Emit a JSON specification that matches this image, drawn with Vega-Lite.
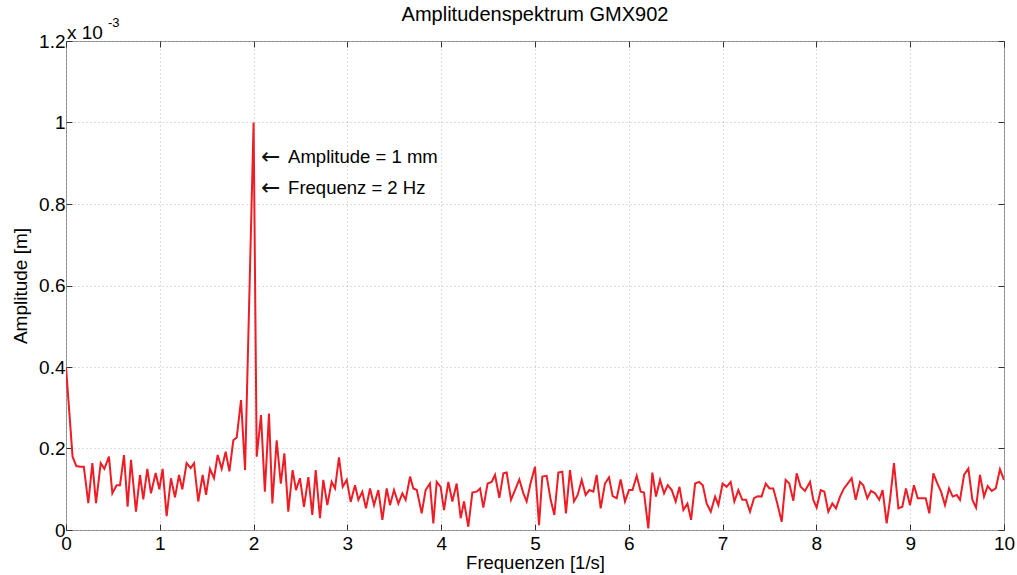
{
  "$schema": "https://vega.github.io/schema/vega-lite/v6.json",
  "width": 938,
  "height": 489,
  "autosize": {"type": "none"},
  "padding": {"left": 66, "top": 41, "right": 13, "bottom": 45},
  "background": "white",
  "config": {
    "font": "Liberation Sans",
    "view": {"stroke": "#8a8a8a", "strokeWidth": 1},
    "axis": {
      "domain": false,
      "tickSize": -6,
      "tickColor": "#333333",
      "labelFont": "Liberation Sans",
      "labelFontSize": 19,
      "labelColor": "black",
      "labelFlush": false,
      "titleFont": "Liberation Sans",
      "titleFontSize": 19,
      "titleFontWeight": "normal",
      "titleColor": "black",
      "gridColor": "#b8b8b8",
      "gridDash": [1, 3],
      "gridWidth": 1
    },
    "title": {"font": "Liberation Sans", "fontSize": 20, "fontWeight": "normal", "color": "black", "offset": -8}
  },
  "title": {"text": "Amplitudenspektrum GMX902"},
  "data": {
    "values": [
      {"f":0,"a":0.40},{"f":0.07,"a":0.18},{"f":0.11,"a":0.157},{"f":0.15,"a":0.155},{"f":0.19,"a":0.155},{"f":0.238,"a":0.066},{"f":0.281,"a":0.164},{"f":0.32,"a":0.066},{"f":0.37,"a":0.164},{"f":0.409,"a":0.15},{"f":0.458,"a":0.18},{"f":0.494,"a":0.09},{"f":0.54,"a":0.11},{"f":0.576,"a":0.11},{"f":0.618,"a":0.184},{"f":0.657,"a":0.057},{"f":0.693,"a":0.172},{"f":0.746,"a":0.045},{"f":0.789,"a":0.135},{"f":0.824,"a":0.075},{"f":0.867,"a":0.15},{"f":0.906,"a":0.09},{"f":0.956,"a":0.14},{"f":0.995,"a":0.10},{"f":1.03,"a":0.15},{"f":1.073,"a":0.034},{"f":1.119,"a":0.127},{"f":1.162,"a":0.08},{"f":1.205,"a":0.135},{"f":1.24,"a":0.10},{"f":1.286,"a":0.164},{"f":1.329,"a":0.152},{"f":1.365,"a":0.164},{"f":1.41,"a":0.07},{"f":1.457,"a":0.135},{"f":1.493,"a":0.086},{"f":1.535,"a":0.15},{"f":1.578,"a":0.127},{"f":1.617,"a":0.184},{"f":1.66,"a":0.15},{"f":1.702,"a":0.192},{"f":1.742,"a":0.144},{"f":1.784,"a":0.22},{"f":1.82,"a":0.227},{"f":1.866,"a":0.319},{"f":1.909,"a":0.147},{"f":2.0,"a":1.0},{"f":2.033,"a":0.18},{"f":2.079,"a":0.282},{"f":2.12,"a":0.094},{"f":2.164,"a":0.286},{"f":2.2,"a":0.065},{"f":2.246,"a":0.22},{"f":2.29,"a":0.114},{"f":2.328,"a":0.188},{"f":2.37,"a":0.045},{"f":2.416,"a":0.147},{"f":2.452,"a":0.098},{"f":2.494,"a":0.127},{"f":2.537,"a":0.057},{"f":2.584,"a":0.13},{"f":2.626,"a":0.037},{"f":2.662,"a":0.147},{"f":2.708,"a":0.029},{"f":2.743,"a":0.123},{"f":2.786,"a":0.061},{"f":2.832,"a":0.118},{"f":2.868,"a":0.102},{"f":2.91,"a":0.178},{"f":2.95,"a":0.106},{"f":2.993,"a":0.123},{"f":3.035,"a":0.069},{"f":3.081,"a":0.11},{"f":3.117,"a":0.074},{"f":3.159,"a":0.094},{"f":3.198,"a":0.053},{"f":3.241,"a":0.102},{"f":3.284,"a":0.061},{"f":3.33,"a":0.098},{"f":3.373,"a":0.025},{"f":3.419,"a":0.102},{"f":3.454,"a":0.061},{"f":3.497,"a":0.098},{"f":3.543,"a":0.065},{"f":3.586,"a":0.09},{"f":3.621,"a":0.074},{"f":3.668,"a":0.131},{"f":3.703,"a":0.102},{"f":3.74,"a":0.098},{"f":3.792,"a":0.041},{"f":3.834,"a":0.098},{"f":3.88,"a":0.114},{"f":3.916,"a":0.016},{"f":3.952,"a":0.118},{"f":3.994,"a":0.106},{"f":4.03,"a":0.049},{"f":4.076,"a":0.118},{"f":4.119,"a":0.07},{"f":4.165,"a":0.114},{"f":4.208,"a":0.029},{"f":4.243,"a":0.07},{"f":4.289,"a":0.008},{"f":4.332,"a":0.092},{"f":4.378,"a":0.094},{"f":4.414,"a":0.102},{"f":4.449,"a":0.055},{"f":4.495,"a":0.114},{"f":4.538,"a":0.118},{"f":4.574,"a":0.135},{"f":4.62,"a":0.079},{"f":4.663,"a":0.139},{"f":4.698,"a":0.141},{"f":4.744,"a":0.074},{"f":4.787,"a":0.098},{"f":4.833,"a":0.124},{"f":4.876,"a":0.09},{"f":4.911,"a":0.07},{"f":4.954,"a":0.116},{"f":5.0,"a":0.155},{"f":5.043,"a":0.012},{"f":5.078,"a":0.131},{"f":5.124,"a":0.133},{"f":5.167,"a":0.074},{"f":5.206,"a":0.037},{"f":5.249,"a":0.141},{"f":5.291,"a":0.143},{"f":5.33,"a":0.041},{"f":5.373,"a":0.147},{"f":5.416,"a":0.07},{"f":5.455,"a":0.086},{"f":5.498,"a":0.123},{"f":5.54,"a":0.086},{"f":5.58,"a":0.098},{"f":5.622,"a":0.094},{"f":5.657,"a":0.135},{"f":5.7,"a":0.053},{"f":5.746,"a":0.114},{"f":5.789,"a":0.129},{"f":5.828,"a":0.083},{"f":5.871,"a":0.078},{"f":5.913,"a":0.124},{"f":5.959,"a":0.07},{"f":6.002,"a":0.098},{"f":6.04,"a":0.098},{"f":6.084,"a":0.133},{"f":6.127,"a":0.094},{"f":6.162,"a":0.092},{"f":6.208,"a":0.004},{"f":6.251,"a":0.141},{"f":6.29,"a":0.082},{"f":6.333,"a":0.123},{"f":6.376,"a":0.09},{"f":6.415,"a":0.11},{"f":6.458,"a":0.098},{"f":6.5,"a":0.07},{"f":6.54,"a":0.106},{"f":6.582,"a":0.049},{"f":6.625,"a":0.065},{"f":6.664,"a":0.025},{"f":6.707,"a":0.114},{"f":6.75,"a":0.118},{"f":6.789,"a":0.11},{"f":6.83,"a":0.065},{"f":6.874,"a":0.045},{"f":6.92,"a":0.082},{"f":6.955,"a":0.061},{"f":7.0,"a":0.114},{"f":7.043,"a":0.106},{"f":7.086,"a":0.118},{"f":7.125,"a":0.07},{"f":7.168,"a":0.098},{"f":7.21,"a":0.074},{"f":7.25,"a":0.074},{"f":7.292,"a":0.045},{"f":7.335,"a":0.078},{"f":7.374,"a":0.083},{"f":7.415,"a":0.082},{"f":7.46,"a":0.114},{"f":7.5,"a":0.102},{"f":7.54,"a":0.102},{"f":7.583,"a":0.065},{"f":7.63,"a":0.02},{"f":7.672,"a":0.123},{"f":7.711,"a":0.114},{"f":7.754,"a":0.072},{"f":7.79,"a":0.139},{"f":7.832,"a":0.106},{"f":7.878,"a":0.096},{"f":7.932,"a":0.118},{"f":7.967,"a":0.074},{"f":8.003,"a":0.055},{"f":8.046,"a":0.098},{"f":8.085,"a":0.094},{"f":8.127,"a":0.045},{"f":8.17,"a":0.065},{"f":8.209,"a":0.053},{"f":8.252,"a":0.082},{"f":8.294,"a":0.102},{"f":8.333,"a":0.114},{"f":8.376,"a":0.127},{"f":8.419,"a":0.074},{"f":8.465,"a":0.118},{"f":8.5,"a":0.11},{"f":8.543,"a":0.078},{"f":8.582,"a":0.096},{"f":8.625,"a":0.09},{"f":8.67,"a":0.074},{"f":8.706,"a":0.098},{"f":8.749,"a":0.016},{"f":8.785,"a":0.074},{"f":8.827,"a":0.164},{"f":8.874,"a":0.053},{"f":8.916,"a":0.057},{"f":8.955,"a":0.102},{"f":8.998,"a":0.061},{"f":9.04,"a":0.11},{"f":9.08,"a":0.078},{"f":9.12,"a":0.078},{"f":9.165,"a":0.078},{"f":9.204,"a":0.041},{"f":9.247,"a":0.139},{"f":9.29,"a":0.114},{"f":9.329,"a":0.094},{"f":9.371,"a":0.061},{"f":9.414,"a":0.102},{"f":9.453,"a":0.082},{"f":9.496,"a":0.086},{"f":9.531,"a":0.074},{"f":9.574,"a":0.135},{"f":9.62,"a":0.151},{"f":9.663,"a":0.074},{"f":9.702,"a":0.055},{"f":9.744,"a":0.135},{"f":9.787,"a":0.082},{"f":9.826,"a":0.108},{"f":9.869,"a":0.096},{"f":9.912,"a":0.102},{"f":9.957,"a":0.149},{"f":10.0,"a":0.123}
    ]
  },
  "layer": [
    {
      "mark": {"type": "line", "color": "#ee1c25", "strokeWidth": 2, "clip": true},
      "encoding": {
        "x": {"field": "f", "type": "quantitative", "scale": {"domain": [0, 10], "nice": false},
          "axis": {"title": "Frequenzen [1/s]", "values": [0,1,2,3,4,5,6,7,8,9,10], "grid": true, "labelPadding": 10, "titlePadding": 0, "titleFontSize": 18.5, "format": "d"}},
        "y": {"field": "a", "type": "quantitative", "scale": {"domain": [0, 1.2], "nice": false},
          "axis": {"title": "Amplitude [m]", "values": [0, 0.2, 0.4, 0.6, 0.8, 1, 1.2], "grid": true, "labelPadding": 7, "titlePadding": 8, "format": "~g"}}
      }
    },
    {
      "mark": {"type": "line", "strokeOpacity": 0},
      "encoding": {
        "x": {"field": "f", "type": "quantitative", "scale": {"domain": [0, 10], "nice": false},
          "axis": {"orient": "top", "title": null, "labels": false, "values": [0,1,2,3,4,5,6,7,8,9,10], "grid": false}},
        "y": {"field": "a", "type": "quantitative", "scale": {"domain": [0, 1.2], "nice": false},
          "axis": {"orient": "right", "title": null, "labels": false, "values": [0, 0.2, 0.4, 0.6, 0.8, 1, 1.2], "grid": false}}
      }
    },
    {
      "data": {"values": [{"f": 2.08, "a": 0.917}, {"f": 2.08, "a": 0.842}]},
      "mark": {"type": "text", "text": "←", "align": "left", "baseline": "middle", "fontSize": 23, "font": "DejaVu Sans", "color": "#111111", "dy": 1},
      "encoding": {
        "x": {"field": "f", "type": "quantitative", "scale": {"domain": [0, 10], "nice": false}, "axis": null},
        "y": {"field": "a", "type": "quantitative", "scale": {"domain": [0, 1.2], "nice": false}, "axis": null}
      }
    },
    {
      "data": {"values": [{"f": 2.08, "a": 0.915, "t": "Amplitude = 1 mm"}, {"f": 2.08, "a": 0.84, "t": "Frequenz = 2 Hz"}]},
      "mark": {"type": "text", "align": "left", "baseline": "middle", "fontSize": 18.5, "font": "Liberation Sans", "color": "black", "dx": 27},
      "encoding": {
        "x": {"field": "f", "type": "quantitative", "scale": {"domain": [0, 10], "nice": false}, "axis": null},
        "y": {"field": "a", "type": "quantitative", "scale": {"domain": [0, 1.2], "nice": false}, "axis": null},
        "text": {"field": "t"}
      }
    },
    {
      "data": {"values": [{"f": 0, "a": 1.2, "t": "x 10"}]},
      "mark": {"type": "text", "align": "left", "baseline": "alphabetic", "fontSize": 19, "font": "Liberation Sans", "color": "black", "dx": 1, "dy": -2},
      "encoding": {
        "x": {"field": "f", "type": "quantitative", "scale": {"domain": [0, 10], "nice": false}, "axis": null},
        "y": {"field": "a", "type": "quantitative", "scale": {"domain": [0, 1.2], "nice": false}, "axis": null},
        "text": {"field": "t"}
      }
    },
    {
      "data": {"values": [{"f": 0, "a": 1.2, "t": "-3"}]},
      "mark": {"type": "text", "align": "left", "baseline": "alphabetic", "fontSize": 13, "font": "Liberation Sans", "color": "black", "dx": 42, "dy": -14},
      "encoding": {
        "x": {"field": "f", "type": "quantitative", "scale": {"domain": [0, 10], "nice": false}, "axis": null},
        "y": {"field": "a", "type": "quantitative", "scale": {"domain": [0, 1.2], "nice": false}, "axis": null},
        "text": {"field": "t"}
      }
    }
  ],
  "resolve": {"axis": {"x": "independent", "y": "independent"}}
}
